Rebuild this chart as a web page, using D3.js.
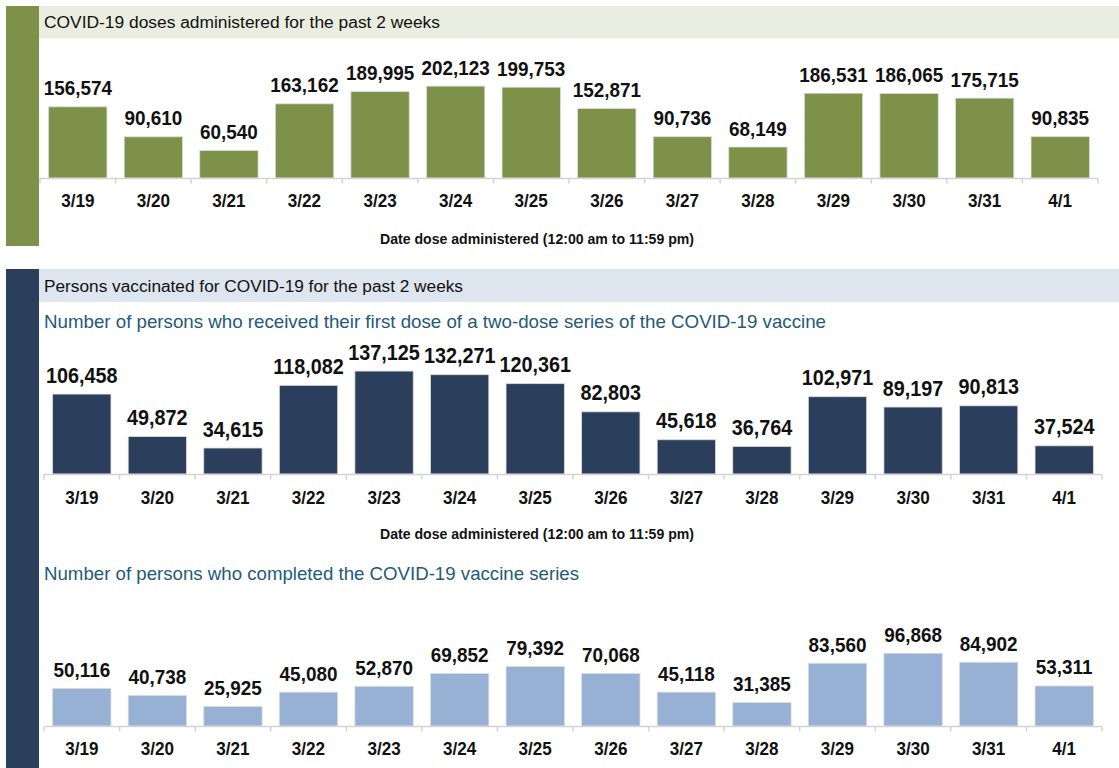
<!DOCTYPE html>
<html>
<head>
<meta charset="utf-8">
<script src="https://cdn.jsdelivr.net/npm/d3@7"></script>
<style>
  html, body { margin: 0; padding: 0; background: #ffffff; }
  svg { display: block; }
  .narrow { font-family: "Liberation Sans", Arial, sans-serif; font-weight: bold; }
  .reg { font-family: "Liberation Sans", Arial, sans-serif; }
</style>
</head>
<body>
<svg id="chart" width="1119" height="768"></svg>
<script>
// ---- Data ----
const dates = ["3/19","3/20","3/21","3/22","3/23","3/24","3/25","3/26","3/27","3/28","3/29","3/30","3/31","4/1"];
const dosesAdministered = [156574, 90610, 60540, 163162, 189995, 202123, 199753, 152871, 90736, 68149, 186531, 186065, 175715, 90835];
const firstDose = [106458, 49872, 34615, 118082, 137125, 132271, 120361, 82803, 45618, 36764, 102971, 89197, 90813, 37524];
const completedSeries = [50116, 40738, 25925, 45080, 52870, 69852, 79392, 70068, 45118, 31385, 83560, 96868, 84902, 53311];

const title1 = "COVID-19 doses administered for the past 2 weeks";
const title2 = "Persons vaccinated for COVID-19 for the past 2 weeks";
const subtitle2a = "Number of persons who received their first dose of a two-dose series of the COVID-19 vaccine";
const subtitle2b = "Number of persons who completed the COVID-19 vaccine series";
const axisTitle = "Date dose administered (12:00 am to 11:59 pm)";

// ---- Colors ----
const green = "#7d9248";
const greenBand = "#eaeee0";
const navy = "#2b3f5c";
const navyBand = "#dde5ef";
const lightBlue = "#97b1d5";
const subColor = "#235a78";

const svg = d3.select("#chart");
const fmt = d3.format(",");

// ---- Section frames ----
svg.append("rect").attr("x", 6).attr("y", 6).attr("width", 33).attr("height", 240).attr("fill", green);
svg.append("rect").attr("x", 39).attr("y", 6).attr("width", 1080).attr("height", 32.5).attr("fill", greenBand);
svg.append("text").attr("class", "reg").attr("x", 44).attr("y", 28.3)
  .attr("font-size", 16).attr("fill", "#111").attr("textLength", 396).attr("lengthAdjust", "spacingAndGlyphs")
  .text(title1);

svg.append("rect").attr("x", 6).attr("y", 269).attr("width", 33).attr("height", 499).attr("fill", navy);
svg.append("rect").attr("x", 39).attr("y", 269).attr("width", 1080).attr("height", 33).attr("fill", navyBand);
svg.append("text").attr("class", "reg").attr("x", 44).attr("y", 292.3)
  .attr("font-size", 16).attr("fill", "#111").attr("textLength", 419).attr("lengthAdjust", "spacingAndGlyphs")
  .text(title2);

svg.append("text").attr("class", "reg").attr("x", 44).attr("y", 328.3)
  .attr("font-size", 18.5).attr("fill", subColor).attr("textLength", 782).attr("lengthAdjust", "spacingAndGlyphs")
  .text(subtitle2a);
svg.append("text").attr("class", "reg").attr("x", 44).attr("y", 580)
  .attr("font-size", 18.5).attr("fill", subColor).attr("textLength", 535).attr("lengthAdjust", "spacingAndGlyphs")
  .text(subtitle2b);

// ---- Bar chart helper ----
function barChart(cfg) {
  const x = d3.scaleBand().domain(dates).range([cfg.x0, cfg.x1]).paddingInner(0.228).paddingOuter(0.114);
  const y = d3.scaleLinear().domain([0, cfg.maxV]).range([cfg.base, cfg.base - cfg.h]);
  const g = svg.append("g");
  const data = dates.map((d, i) => ({ d, v: cfg.values[i] }));

  g.selectAll("rect.bar").data(data).join("rect").attr("class", "bar")
    .attr("x", d => x(d.d)).attr("width", x.bandwidth())
    .attr("y", d => y(d.v)).attr("height", d => y(0) - y(d.v))
    .attr("fill", cfg.color).attr("stroke", "#dcdcdc").attr("stroke-width", 0.8);

  g.selectAll("text.val").data(data).join("text").attr("class", "val narrow")
    .attr("transform", d => `translate(${x(d.d) + x.bandwidth() / 2},${y(d.v) - 11.5}) scale(0.9,1)`)
    .attr("text-anchor", "middle").attr("font-size", cfg.labelSize)
    .attr("fill", "#111").text(d => fmt(d.v));

  // axis
  const ax = g.append("g").attr("transform", `translate(0,${cfg.base + 0.5})`);
  ax.append("line").attr("x1", cfg.x0).attr("x2", cfg.x1).attr("stroke", "#d4d4d4").attr("stroke-width", 1.5);
  const tickPos = d3.range(dates.length + 1).map(i => cfg.x0 + i * (cfg.x1 - cfg.x0) / dates.length);
  ax.selectAll("line.tk").data(tickPos).join("line").attr("class", "tk")
    .attr("x1", d => d).attr("x2", d => d).attr("y1", 0).attr("y2", 5)
    .attr("stroke", "#d4d4d4").attr("stroke-width", 1.5);
  ax.selectAll("text.tl").data(dates).join("text").attr("class", "tl narrow")
    .attr("transform", d => `translate(${x(d) + x.bandwidth() / 2},${cfg.tickLabelY - cfg.base}) scale(0.95,1)`)
    .attr("text-anchor", "middle").attr("font-size", 18)
    .attr("fill", "#111").text(d => d);

  if (cfg.axisTitleY) {
    svg.append("text").attr("class", "narrow").attr("x", 537).attr("y", cfg.axisTitleY)
      .attr("text-anchor", "middle").attr("font-size", 15).attr("fill", "#111")
      .attr("textLength", 314).attr("lengthAdjust", "spacingAndGlyphs").text(axisTitle);
  }
}

barChart({ values: dosesAdministered, x0: 40, x1: 1098, base: 178, maxV: 220000, h: 100, color: green,
  labelSize: 21, tickLabelY: 206, axisTitleY: 244 });
barChart({ values: firstDose, x0: 44, x1: 1102, base: 474, maxV: 140000, h: 105.1, color: navy,
  labelSize: 22, tickLabelY: 503, axisTitleY: 538.5 });
barChart({ values: completedSeries, x0: 44, x1: 1102, base: 726, maxV: 140000, h: 105.1, color: lightBlue,
  labelSize: 21, tickLabelY: 754, axisTitleY: null });
</script>
</body>
</html>
